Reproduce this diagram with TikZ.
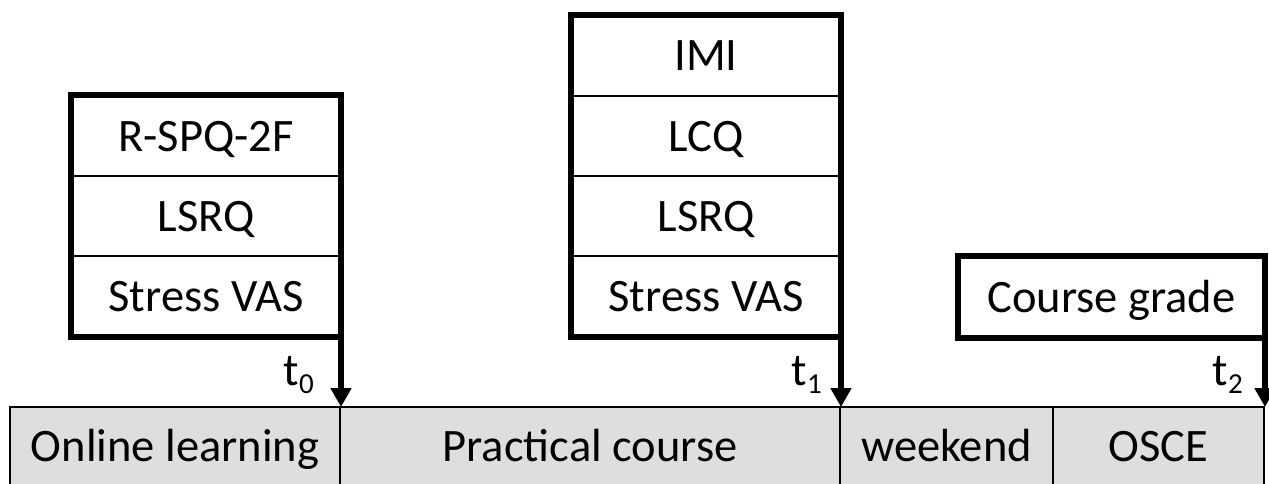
\documentclass[tikz,border=0pt]{standalone}
\usepackage{fontspec}
\setmainfont{Carlito}
\usetikzlibrary{arrows.meta}
\definecolor{barfill}{RGB}{222,222,222}
\tikzset{
  txt/.style={font=\fontsize{46.5}{56}\selectfont, text height=30pt, text depth=0pt},
  row/.style={txt, draw=black, line width=2pt, minimum height=80pt, inner sep=0pt},
  seg/.style={txt, draw=black, line width=2pt, fill=barfill, minimum height=79pt, inner sep=0pt},
  outline/.style={line width=6pt, line join=miter},
  arr/.style={line width=6pt, -{Triangle[width=20pt,length=19pt]}, shorten >=-1pt},
  tlab/.style={anchor=base east, inner sep=0pt, font=\fontsize{46}{54}\selectfont}
}
\newcommand{\tsub}[1]{t\raisebox{-8pt}{\fontsize{29}{30}\selectfont #1}}
\begin{document}
\begin{tikzpicture}[x=1pt,y=-1pt]
\useasboundingbox (0,0) rectangle (1269,484);
% bottom bar
\node[seg, minimum width=330pt] (online) at (175,446.5) {Online learning};
\node[seg, minimum width=500pt] (practical) at (590,446.5) {Practical course};
\node[seg, minimum width=213pt] (weekend) at (946.5,446.5) {weekend};
\node[seg, minimum width=211pt] (osce) at (1158.5,446.5) {OSCE};
% box t0
\node[row, minimum width=268pt] (a1) at (206,136) {R-SPQ-2F};
\node[row, minimum width=268pt] (a2) at (206,216) {LSRQ};
\node[row, minimum width=268pt] (a3) at (206,296) {Stress VAS};
\draw[outline] (a1.north west) rectangle (a3.south east);
% box t1
\node[row, minimum width=268pt] (b1) at (706,56) {IMI};
\node[row, minimum width=268pt] (b2) at (706,136) {LCQ};
\node[row, minimum width=268pt] (b3) at (706,216) {LSRQ};
\node[row, minimum width=268pt] (b4) at (706,296) {Stress VAS};
\draw[outline] (b1.north west) rectangle (b4.south east);
% box t2
\node[row, minimum width=305pt] (c1) at (1111.5,297) {Course grade};
\draw[outline] (c1.north west) rectangle (c1.south east);
% arrows
\draw[arr] (a3.south east) -- (online.north east);
\draw[arr] (b4.south east) -- (practical.north east);
\draw[arr] (c1.south east) -- (osce.north east);
% time labels
\node[tlab] (t0) at (314,385) {\tsub{0}};
\node[tlab] (t1) at (822,385) {\tsub{1}};
\node[tlab] (t2) at (1243,385) {\tsub{2}};
\end{tikzpicture}
\end{document}
